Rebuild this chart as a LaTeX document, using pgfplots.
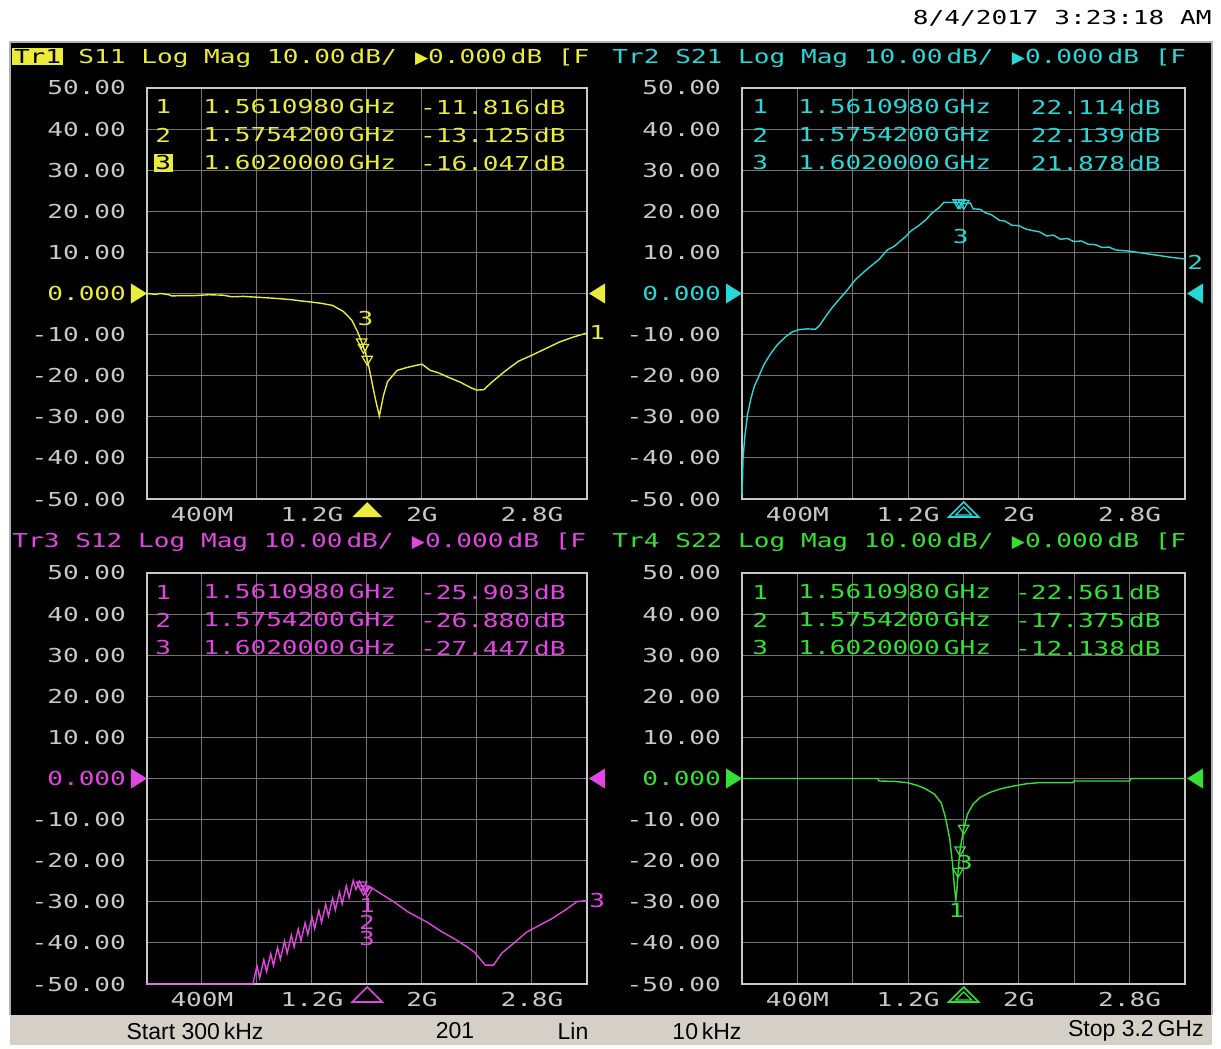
\documentclass[border=0pt]{standalone}
\usepackage{pgfplots}
\pgfplotsset{compat=1.18}
\usepackage{fontspec}
\setmainfont{DejaVu Sans}
\newfontfamily\ena[FakeStretch=1.36]{DejaVu Sans Mono}
\newfontfamily\djs{DejaVu Sans}
\newfontfamily\stat{Liberation Sans}
\definecolor{colY}{RGB}{235,235,60}
\definecolor{colC}{RGB}{40,215,215}
\definecolor{colM}{RGB}{225,70,225}
\definecolor{colG}{RGB}{50,225,50}
\definecolor{gridc}{RGB}{115,115,115}
\definecolor{framec}{RGB}{200,200,200}
\definecolor{labc}{RGB}{200,200,200}
\definecolor{barc}{RGB}{212,208,200}
\newcommand{\enafont}{\ena\fontsize{9.6pt}{10pt}\selectfont}
\newcommand{\tri}{\makebox[7.8pt][r]{\djs\fontsize{8.5pt}{8.5pt}\selectfont ▶}}
\setlength{\fboxsep}{0.8pt}
\pgfplotsset{
  enapanel/.style={
    scale only axis, width=220pt, height=205.5pt,
    xmin=0.0003, xmax=3.2, ymin=-50, ymax=50,
    xtick={0.4,1.2,2.0,2.8}, xticklabels={400M,1.2G,2G,2.8G},
    minor xtick={0.8,1.6,2.4},
    ytick={-50,-40,...,50},
    grid=both,
    major grid style={gridc, line width=0.5pt},
    minor grid style={gridc, line width=0.5pt},
    major tick length=0pt, minor tick length=0pt,
    axis line style={framec, line width=0.9pt},
    ticklabel style={font=\enafont, text=labc},
    yticklabel style={xshift=-7pt},
    xticklabel style={yshift=-0.5pt},
    clip=false,
    anchor=north west,
  },
  ylabs/.style={yticklabels={-50.00,-40.00,-30.00,-20.00,-10.00,{\textcolor{#1}{0.000}},10.00,20.00,30.00,40.00,50.00}},
  tr/.style={line width=0.7pt, color=#1},
  mk/.style={only marks, mark=triangle, mark size=3pt, mark options={rotate=180, color=#1, line width=0.6pt}},
}
\begin{document}
\begin{tikzpicture}
\fill[white] (0pt,0pt) rectangle (610.5pt,-524.5pt);
\fill[black] (5pt,-21pt) rectangle (606pt,-507.5pt);
\draw[gray!60, line width=0.8pt] (5pt,-507.5pt) -- (5pt,-21pt) -- (606pt,-21pt) -- (606pt,-507.5pt);
\fill[barc] (5pt,-507.5pt) rectangle (606pt,-522.5pt);
\node[anchor=east, inner sep=0pt, text=black] at (606pt,-9pt) {\enafont 8/4/2017 3:23:18 AM};
% headers
\node[anchor=west, inner sep=0pt, text=colY] at (6pt,-29pt) {\enafont \colorbox{colY}{\textcolor{black}{Tr1}} S11 Log Mag 10.00\hspace{2pt}dB/ \tri 0.000\hspace{2pt}dB [F};
\node[anchor=west, inner sep=0pt, text=colC] at (306pt,-29pt) {\enafont Tr2 S21 Log Mag 10.00\hspace{2pt}dB/ \tri 0.000\hspace{2pt}dB [F};
\node[anchor=west, inner sep=0pt, text=colM] at (6pt,-271pt) {\enafont Tr3 S12 Log Mag 10.00\hspace{2pt}dB/ \tri 0.000\hspace{2pt}dB [F};
\node[anchor=west, inner sep=0pt, text=colG] at (306pt,-271pt) {\enafont Tr4 S22 Log Mag 10.00\hspace{2pt}dB/ \tri 0.000\hspace{2pt}dB [F};

% ---------- Panel 1: S11 ----------
\begin{axis}[enapanel, at={(73.5pt,-44pt)}, ylabs=colY]
\addplot[tr=colY] coordinates {(0.0003,0) (0.06,-0.2) (0.1,0) (0.16,-0.3) (0.18,-0.6) (0.25,-0.5) (0.35,-0.5) (0.45,-0.3) (0.55,-0.4) (0.62,-0.8) (0.7,-0.7) (0.8,-0.9) (0.9,-1.1) (0.98,-1.3) (1.05,-1.5) (1.12,-1.8) (1.2,-2.1) (1.27,-2.4) (1.35,-2.9) (1.43,-4.4) (1.49,-6.5) (1.53,-9.2) (1.561,-11.8) (1.575,-13.1) (1.602,-16.0) (1.63,-20.5) (1.66,-25.5) (1.69,-29.8) (1.72,-24.8) (1.75,-21.4) (1.82,-18.7) (1.89,-18.0) (1.97,-17.4) (2.0,-17.2) (2.06,-18.7) (2.12,-19.3) (2.2,-20.5) (2.28,-21.6) (2.36,-23.0) (2.4,-23.5) (2.45,-23.4) (2.5,-21.8) (2.6,-19.0) (2.7,-16.5) (2.8,-15.0) (2.9,-13.4) (3.0,-11.8) (3.1,-10.6) (3.2,-9.6)};
\addplot[mk=colY] coordinates {(1.561,-11.8) (1.575,-13.1) (1.602,-16.0)};
\node[text=colY, font=\enafont, inner sep=0pt] at (axis cs:1.59,-6.2) {3};
\node[text=colY, font=\enafont, anchor=west, inner sep=1pt] at (axis cs:3.2,-9.6) {1};
\fill[colY] (axis cs:0.0003,0) ++(-8pt,5pt) -- ++(8pt,-5pt) -- ++(-8pt,-5pt) -- cycle;
\fill[colY] (axis cs:3.2,0) ++(9pt,5pt) -- ++(-8pt,-5pt) -- ++(8pt,-5pt) -- cycle;
\fill[colY] (axis cs:1.602,-50) ++(0pt,-1.5pt) -- ++(7.5pt,-7.5pt) -- ++(-15pt,0pt) -- cycle;
\end{axis}

% ---------- Panel 2: S21 ----------
\begin{axis}[enapanel, at={(371pt,-44pt)}, width=221.5pt, ylabs=colC]
\addplot[tr=colC] coordinates {(0.0003,-49) (0.008,-40) (0.02,-35) (0.04,-29.5) (0.065,-25.5) (0.09,-22.5) (0.12,-20.3) (0.16,-17.2) (0.21,-14.5) (0.26,-12.3) (0.32,-10.4) (0.36,-9.4) (0.41,-8.8) (0.47,-8.6) (0.53,-8.7) (0.56,-7.8) (0.6,-5.8) (0.65,-3.5) (0.7,-1.5) (0.76,0.8) (0.82,3.4) (0.9,5.8) (0.99,8.3) (1.05,10.6) (1.1,11.5) (1.18,13.8) (1.22,15.2) (1.28,16.6) (1.33,18.0) (1.37,19.5) (1.42,20.8) (1.46,22.2) (1.561,22.1) (1.575,22.1) (1.602,21.9) (1.65,22.0) (1.67,20.6) (1.72,20.5) (1.76,19.6) (1.8,19.2) (1.86,17.8) (1.9,17.6) (1.95,16.6) (2.0,16.5) (2.05,15.7) (2.1,15.3) (2.15,15.0) (2.2,14.0) (2.25,14.2) (2.3,13.2) (2.35,13.4) (2.4,12.6) (2.45,12.8) (2.5,12.0) (2.55,11.9) (2.6,11.2) (2.65,11.3) (2.7,10.6) (2.8,10.3) (2.9,9.8) (3.0,9.3) (3.1,8.8) (3.2,8.4)};
\addplot[mk=colC] coordinates {(1.561,22.1) (1.575,22.1) (1.602,21.9)};
\node[text=colC, font=\enafont, inner sep=0pt] at (axis cs:1.58,13.8) {3};
\node[text=colC, font=\enafont, anchor=west, inner sep=1pt] at (axis cs:3.2,7.6) {2};
\fill[colC] (axis cs:0.0003,0) ++(-8pt,5pt) -- ++(8pt,-5pt) -- ++(-8pt,-5pt) -- cycle;
\fill[colC] (axis cs:3.2,0) ++(9pt,5pt) -- ++(-8pt,-5pt) -- ++(8pt,-5pt) -- cycle;
\draw[colC, line width=0.8pt] (axis cs:1.602,-50) ++(0pt,-1.5pt) -- ++(7.5pt,-7.5pt) -- ++(-15pt,0pt) -- cycle;
\draw[colC, line width=0.6pt] (axis cs:1.602,-50) ++(0pt,-4pt) -- ++(4pt,-4pt) -- ++(-8pt,0pt) -- cycle;
\end{axis}

% ---------- Panel 3: S12 ----------
\begin{axis}[enapanel, at={(73.5pt,-286.5pt)}, ylabs=colM]
\addplot[tr=colM] coordinates {(0.0003,-50) (0.4,-50) (0.77,-50) (0.80,-45.6) (0.82,-48.5) (0.85,-44.1) (0.87,-47) (0.90,-42.6) (0.92,-45.5) (0.95,-41.1) (0.97,-44) (1.00,-39.6) (1.02,-42.5) (1.05,-38.1) (1.07,-41) (1.10,-36.6) (1.12,-39.5) (1.15,-35.1) (1.17,-38) (1.20,-33.6) (1.22,-36.5) (1.25,-32.1) (1.27,-35) (1.30,-30.6) (1.32,-33.5) (1.35,-29.1) (1.37,-32) (1.40,-27.6) (1.42,-30.5) (1.45,-26.1) (1.47,-29) (1.50,-24.8) (1.52,-27) (1.545,-25) (1.561,-25.9) (1.575,-26.9) (1.602,-27.4) (1.62,-26.3) (1.7,-28.0) (1.8,-30.1) (1.9,-32.5) (2.04,-35.0) (2.14,-37.2) (2.24,-39.1) (2.32,-40.8) (2.38,-42.2) (2.46,-45.4) (2.52,-45.4) (2.58,-42.5) (2.67,-40.0) (2.76,-37.4) (2.85,-35.8) (2.95,-34.0) (3.05,-31.8) (3.13,-29.9) (3.2,-29.7)};
\addplot[mk=colM] coordinates {(1.561,-25.9) (1.575,-26.9) (1.602,-27.4)};
\node[text=colM, font=\enafont, inner sep=0pt] at (axis cs:1.6,-31) {1};
\node[text=colM, font=\enafont, inner sep=0pt] at (axis cs:1.6,-35) {2};
\node[text=colM, font=\enafont, inner sep=0pt] at (axis cs:1.6,-39) {3};
\node[text=colM, font=\enafont, anchor=west, inner sep=1pt] at (axis cs:3.2,-29.7) {3};
\fill[colM] (axis cs:0.0003,0) ++(-8pt,5pt) -- ++(8pt,-5pt) -- ++(-8pt,-5pt) -- cycle;
\fill[colM] (axis cs:3.2,0) ++(9pt,5pt) -- ++(-8pt,-5pt) -- ++(8pt,-5pt) -- cycle;
\draw[colM, line width=0.8pt] (axis cs:1.602,-50) ++(0pt,-1.5pt) -- ++(7.5pt,-7.5pt) -- ++(-15pt,0pt) -- cycle;
\end{axis}

% ---------- Panel 4: S22 ----------
\begin{axis}[enapanel, at={(371pt,-286.5pt)}, width=221.5pt, ylabs=colG]
\addplot[tr=colG] coordinates {(0.0003,0) (0.5,0) (0.98,0) (0.99,-0.6) (1.1,-0.7) (1.19,-1.0) (1.26,-1.6) (1.32,-2.4) (1.39,-3.8) (1.44,-6.0) (1.47,-9.5) (1.50,-14.5) (1.52,-20.5) (1.535,-26.5) (1.545,-29.5) (1.553,-27) (1.561,-22.6) (1.575,-17.4) (1.602,-12.1) (1.63,-8.6) (1.67,-6.2) (1.72,-4.6) (1.79,-3.4) (1.87,-2.5) (1.95,-1.9) (2.05,-1.3) (2.15,-1.0) (2.39,-1.0) (2.4,-0.6) (2.8,-0.6) (2.81,0) (3.2,0)};
\addplot[mk=colG] coordinates {(1.561,-22.6) (1.575,-17.4) (1.602,-12.1)};
\node[text=colG, font=\enafont, inner sep=0pt] at (axis cs:1.55,-32) {1};
\node[text=colG, font=\enafont, inner sep=0pt] at (axis cs:1.61,-20.5) {3};
\fill[colG] (axis cs:0.0003,0) ++(-8pt,5pt) -- ++(8pt,-5pt) -- ++(-8pt,-5pt) -- cycle;
\fill[colG] (axis cs:3.2,0) ++(9pt,5pt) -- ++(-8pt,-5pt) -- ++(8pt,-5pt) -- cycle;
\draw[colG, line width=0.8pt] (axis cs:1.602,-50) ++(0pt,-1.5pt) -- ++(7.5pt,-7.5pt) -- ++(-15pt,0pt) -- cycle;
\draw[colG, line width=0.6pt] (axis cs:1.602,-50) ++(0pt,-4pt) -- ++(4pt,-4pt) -- ++(-8pt,0pt) -- cycle;
\end{axis}

% marker tables
\foreach \yy/\ff/\vv in {-53.5/1.5610980/-11.816, -67.5/1.5754200/-13.125, -81.5/1.6020000/-16.047}{
  \node[anchor=west, inner sep=0pt, text=colY] at (101.5pt,\yy pt) {\enafont \ff\hspace{2pt}GHz};
  \node[anchor=east, inner sep=0pt, text=colY] at (283pt,\yy pt) {\enafont \vv\hspace{2pt}dB};
}
\node[anchor=west, inner sep=0pt, text=colY] at (77.5pt,-53.5pt) {\enafont 1};
\node[anchor=west, inner sep=0pt, text=colY] at (77.5pt,-67.5pt) {\enafont 2};
\node[anchor=west, inner sep=0pt] at (76.7pt,-81.5pt) {\enafont \colorbox{colY}{\textcolor{black}{3}}};
\foreach \yy/\nn/\ff/\vv in {-53.5/1/1.5610980/22.114, -67.5/2/1.5754200/22.139, -81.5/3/1.6020000/21.878}{
  \node[anchor=west, inner sep=0pt, text=colC] at (376pt,\yy pt) {\enafont \nn};
  \node[anchor=west, inner sep=0pt, text=colC] at (399pt,\yy pt) {\enafont \ff\hspace{2pt}GHz};
  \node[anchor=east, inner sep=0pt, text=colC] at (580.5pt,\yy pt) {\enafont \vv\hspace{2pt}dB};
}
\foreach \yy/\nn/\ff/\vv in {-296/1/1.5610980/-25.903, -310/2/1.5754200/-26.880, -324/3/1.6020000/-27.447}{
  \node[anchor=west, inner sep=0pt, text=colM] at (77.5pt,\yy pt) {\enafont \nn};
  \node[anchor=west, inner sep=0pt, text=colM] at (101.5pt,\yy pt) {\enafont \ff\hspace{2pt}GHz};
  \node[anchor=east, inner sep=0pt, text=colM] at (283pt,\yy pt) {\enafont \vv\hspace{2pt}dB};
}
\foreach \yy/\nn/\ff/\vv in {-296/1/1.5610980/-22.561, -310/2/1.5754200/-17.375, -324/3/1.6020000/-12.138}{
  \node[anchor=west, inner sep=0pt, text=colG] at (376pt,\yy pt) {\enafont \nn};
  \node[anchor=west, inner sep=0pt, text=colG] at (399pt,\yy pt) {\enafont \ff\hspace{2pt}GHz};
  \node[anchor=east, inner sep=0pt, text=colG] at (580.5pt,\yy pt) {\enafont \vv\hspace{2pt}dB};
}
% status bar
\begin{scope}[every node/.style={inner sep=0pt, text=black, font=\stat\fontsize{11.5pt}{12pt}\selectfont}]
\node at (97.5pt,-515.5pt) {Start 300\,kHz};
\node at (227.5pt,-515.5pt) {201};
\node at (286.5pt,-515.5pt) {Lin};
\node at (353.5pt,-515.5pt) {10\,kHz};
\node[anchor=east] at (602pt,-515.5pt) {Stop 3.2\,GHz};
\end{scope}
\pgfresetboundingbox
\useasboundingbox (0pt,0pt) rectangle (610.5pt,-524.5pt);
\end{tikzpicture}
\end{document}
